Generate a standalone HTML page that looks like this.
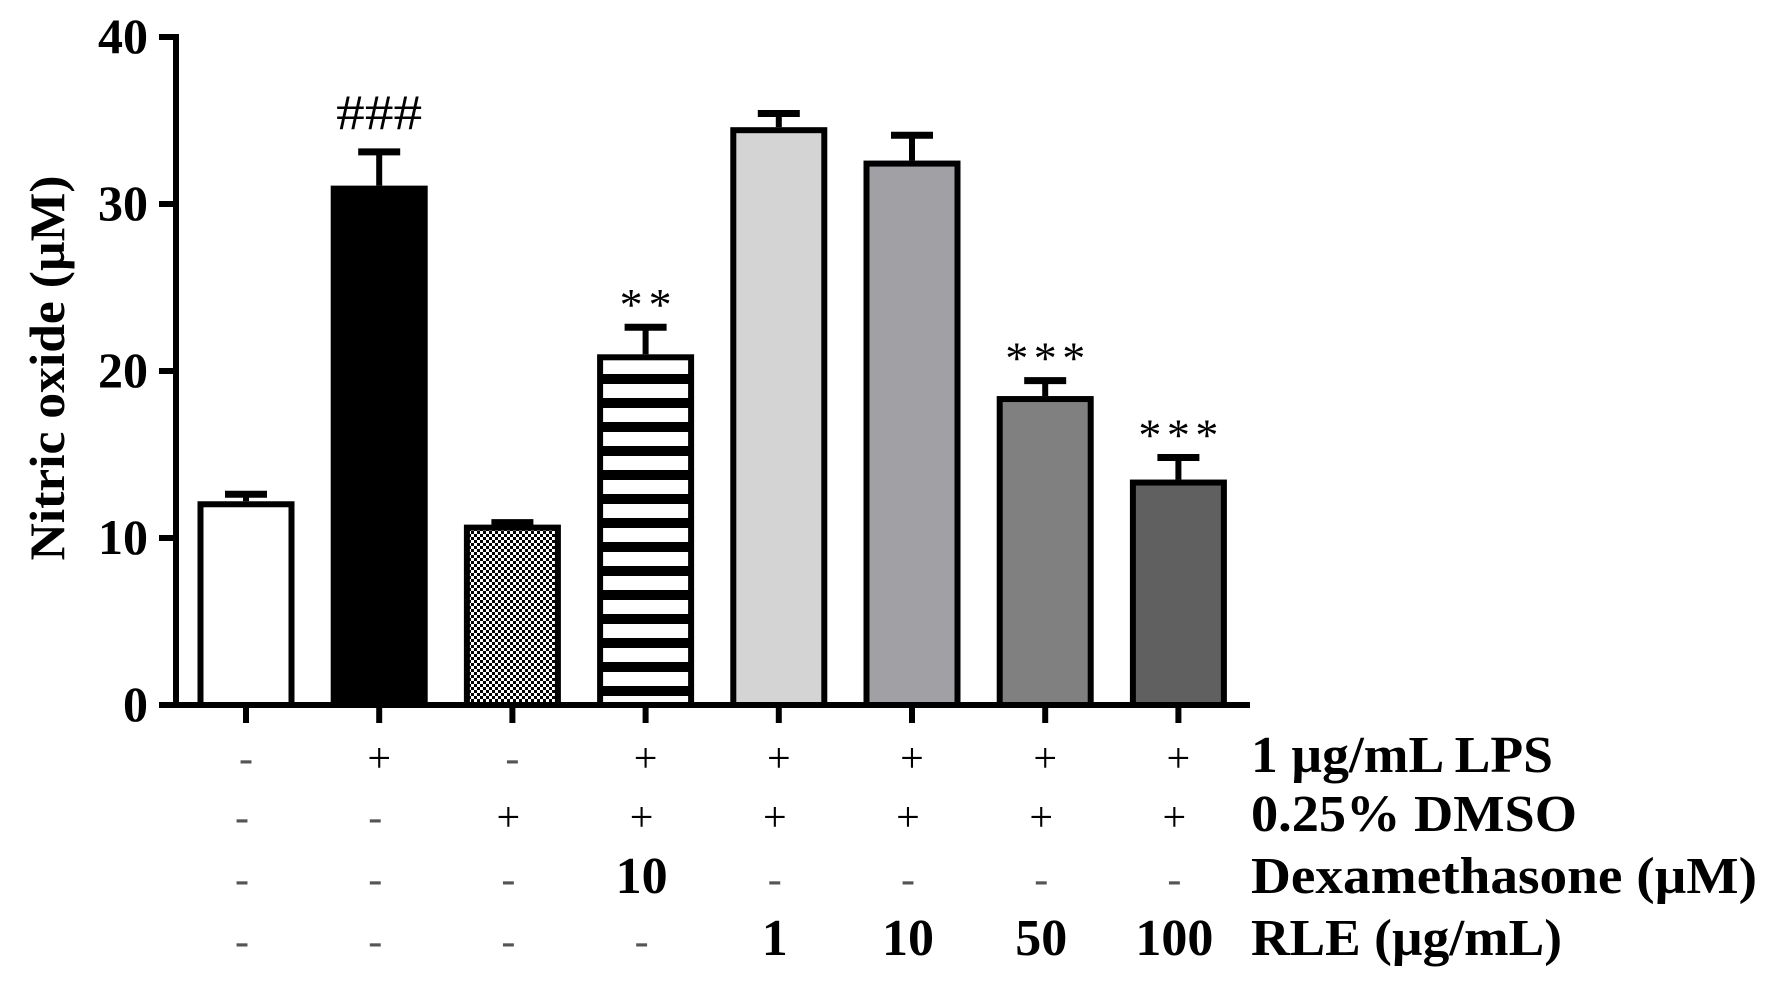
<!DOCTYPE html>
<html><head><meta charset="utf-8"><style>
html,body{margin:0;padding:0;background:#fff;}
svg{display:block;font-family:"Liberation Serif",serif;}
</style></head><body>
<svg id="chart" width="1776" height="990" viewBox="0 0 1776 990" xmlns="http://www.w3.org/2000/svg">
<defs>
<pattern id="checker" width="6" height="6" patternUnits="userSpaceOnUse">
<rect width="6" height="6" fill="#fff"/><rect width="3" height="3" fill="#000"/><rect x="3" y="3" width="3" height="3" fill="#000"/>
</pattern>
<pattern id="stripes" width="10" height="24" patternUnits="userSpaceOnUse" y="0">
<rect width="10" height="24" fill="#fff"/><rect y="14" width="10" height="10" fill="#000"/>
</pattern>
</defs>
<g id="bars"></g>
<g id="axes"></g>
<text transform="translate(64,368) rotate(-90)" text-anchor="middle" font-weight="bold" font-size="50" textLength="385" lengthAdjust="spacingAndGlyphs">Nitric oxide (µM)</text>
<g id="table"></g>
</svg>
<script>
const categories = ["Control","LPS","DMSO","LPS+Dex","RLE 1","RLE 10","RLE 50","RLE 100"];
const values = [12.2, 31.1, 10.8, 21.0, 34.6, 32.6, 18.5, 13.5];
const errors = [0.6, 2.2, 0.3, 1.8, 1.0, 1.7, 1.1, 1.5];
const annotations = ["", "###", "", "**", "", "", "***", "***"];
const fills = ["#fff","#000","url(#checker)","url(#stripes)","#d4d4d4","#a1a1a5","#808080","#606060"];
const yTicks = [0,10,20,30,40];
const rowLabels = ["1 µg/mL LPS","0.25% DMSO","Dexamethasone (µM)","RLE (µg/mL)"];
const rowLPS = ["-","+","-","+","+","+","+","+"];
const rowDMSO = ["-","-","+","+","+","+","+","+"];
const rowDex = ["-","-","-","10","-","-","-","-"];
const rowRLE = ["-","-","-","-","1","10","50","100"];

const NS="http://www.w3.org/2000/svg";
const y0=705, yTop=37, yMax=40;
const yScale=v=>y0-(v/yMax)*(y0-yTop);
const x0=246, step=133.2;
const xScale=i=>x0+i*step;
const bw=97;
const labelW=[302,326,506,311];
function mk(tag,attrs,parent){const e=document.createElementNS(NS,tag);for(const k in attrs)e.setAttribute(k,attrs[k]);parent.appendChild(e);return e;}
const bars=document.getElementById('bars');
const axes=document.getElementById('axes');
const table=document.getElementById('table');

categories.forEach((c,i)=>{
  const cx=xScale(i), top=yScale(values[i]), et=yScale(values[i]+errors[i]);
  const g=mk('g',{},bars);
  
  
  const eb=mk('line',{x1:cx,x2:cx,y1:top,y2:et,stroke:'#000','stroke-width':6},g);
  
  
  const cap=mk('line',{x1:cx-21,x2:cx+21,y1:et+3,y2:et+3,stroke:'#000','stroke-width':7},g);
  
  
  const r=mk('rect',{x:cx-bw/2+3,y:top+3,width:bw-6,height:y0-top-3,fill:fills[i],stroke:'#000','stroke-width':6},g);
  
  
  if(annotations[i]){
    const isHash=annotations[i][0]==='#';
    const t=mk('text',{x:cx,y:isHash?et-20:et-4,'text-anchor':'middle','font-size':isHash?50:46},g);
    
    
    t.setAttribute('textLength', isHash?86:(annotations[i].length===2?52:80));
    t.setAttribute('lengthAdjust', isHash?'spacingAndGlyphs':'spacing');
    t.textContent=annotations[i];
  }
  const tk=mk('line',{x1:cx,x2:cx,y1:y0,y2:y0+18,stroke:'#000','stroke-width':6},axes);
  
  
});
const ya=mk('line',{x1:176,x2:176,y1:yTop-3,y2:y0+3,stroke:'#000','stroke-width':6},axes);


const xa=mk('line',{x1:173,x2:1250,y1:y0,y2:y0,stroke:'#000','stroke-width':6},axes);


yTicks.forEach(v=>{
  const y=yScale(v);
  const t=mk('line',{x1:159,x2:176,y1:y,y2:y,stroke:'#000','stroke-width':6},axes);
  
  
  const l=mk('text',{x:148,y:y+16,'text-anchor':'end','font-size':50,'font-weight':'bold'},axes);
  
  
  l.textContent=v;
});
const rows=[rowLPS,rowDMSO,rowDex,rowRLE];
const rowY=[772,831,893,955];
rows.forEach((row,r)=>{
  row.forEach((v,i)=>{
    const isNum=!(v==='-'||v==='+');
    const t=mk('text',{x:xScale(i)-(r===0?0:4),y:rowY[r],'text-anchor':'middle','font-size':isNum?52:42,'font-weight':isNum?'bold':'normal',fill:v==='-'?'#555':'#000'},table);
    
    
    t.textContent=v;
  });
  const lab=mk('text',{x:1251,y:rowY[r],'font-size':52,'font-weight':'bold',textLength:labelW[r],lengthAdjust:'spacingAndGlyphs'},table);
  
  
  lab.textContent=rowLabels[r];
});
</script>
</body></html>
